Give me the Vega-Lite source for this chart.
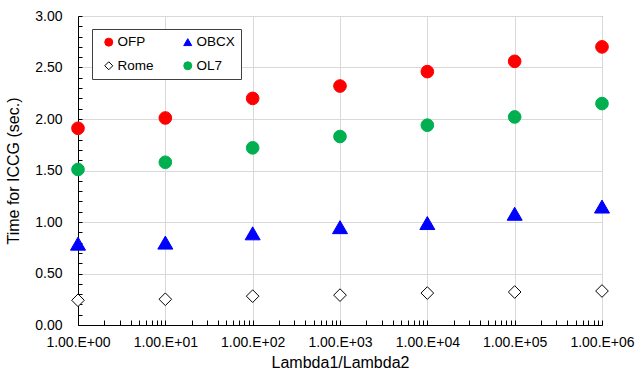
{
  "$schema": "https://vega.github.io/schema/vega-lite/v6.json",
  "width": 524,
  "height": 309,
  "autosize": "none",
  "padding": {"left": 78, "top": 16, "right": 34, "bottom": 47},
  "background": "white",
  "config": {
    "font": "Liberation Sans",
    "view": {"stroke": "#595959", "strokeWidth": 1}
  },
  "data": {
    "values": [
      {"ratio": 1, "series": "OFP", "time": 1.91},
      {"ratio": 10, "series": "OFP", "time": 2.01},
      {"ratio": 100, "series": "OFP", "time": 2.20},
      {"ratio": 1000, "series": "OFP", "time": 2.32},
      {"ratio": 10000, "series": "OFP", "time": 2.46},
      {"ratio": 100000, "series": "OFP", "time": 2.56},
      {"ratio": 1000000, "series": "OFP", "time": 2.70},
      {"ratio": 1, "series": "OBCX", "time": 0.79},
      {"ratio": 10, "series": "OBCX", "time": 0.80},
      {"ratio": 100, "series": "OBCX", "time": 0.89},
      {"ratio": 1000, "series": "OBCX", "time": 0.95},
      {"ratio": 10000, "series": "OBCX", "time": 0.99},
      {"ratio": 100000, "series": "OBCX", "time": 1.08},
      {"ratio": 1000000, "series": "OBCX", "time": 1.15},
      {"ratio": 1, "series": "Rome", "time": 0.24},
      {"ratio": 10, "series": "Rome", "time": 0.25},
      {"ratio": 100, "series": "Rome", "time": 0.28},
      {"ratio": 1000, "series": "Rome", "time": 0.29},
      {"ratio": 10000, "series": "Rome", "time": 0.31},
      {"ratio": 100000, "series": "Rome", "time": 0.32},
      {"ratio": 1000000, "series": "Rome", "time": 0.33},
      {"ratio": 1, "series": "OL7", "time": 1.51},
      {"ratio": 10, "series": "OL7", "time": 1.58},
      {"ratio": 100, "series": "OL7", "time": 1.72},
      {"ratio": 1000, "series": "OL7", "time": 1.83},
      {"ratio": 10000, "series": "OL7", "time": 1.94},
      {"ratio": 100000, "series": "OL7", "time": 2.02},
      {"ratio": 1000000, "series": "OL7", "time": 2.15}
    ]
  },
  "resolve": {"axis": {"x": "independent", "y": "independent"}},
  "layer": [
    {
      "mark": {"type": "point", "opacity": 0},
      "encoding": {
        "x": {
          "field": "ratio", "type": "quantitative",
          "scale": {"type": "log", "domain": [1, 1000000], "nice": false},
          "axis": {
            "orient": "bottom", "title": null, "labels": false, "grid": false, "domain": false,
            "ticks": true, "tickSize": -5, "tickColor": "black", "tickWidth": 1,
            "values": [1, 2, 3, 4, 5, 6, 7, 8, 9,
              10, 20, 30, 40, 50, 60, 70, 80, 90,
              100, 200, 300, 400, 500, 600, 700, 800, 900,
              1000, 2000, 3000, 4000, 5000, 6000, 7000, 8000, 9000,
              10000, 20000, 30000, 40000, 50000, 60000, 70000, 80000, 90000,
              100000, 200000, 300000, 400000, 500000, 600000, 700000, 800000, 900000, 1000000]
          }
        },
        "y": {
          "field": "time", "type": "quantitative",
          "scale": {"domain": [0, 3], "nice": false, "zero": true},
          "axis": {
            "orient": "left", "title": null, "labels": false, "grid": false, "domain": false,
            "ticks": true, "tickSize": -4, "tickColor": "black", "tickWidth": 1,
            "values": [0, 0.1, 0.2, 0.3, 0.4, 0.5, 0.6, 0.7, 0.8, 0.9, 1.0,
              1.1, 1.2, 1.3, 1.4, 1.5, 1.6, 1.7, 1.8, 1.9, 2.0,
              2.1, 2.2, 2.3, 2.4, 2.5, 2.6, 2.7, 2.8, 2.9, 3.0]
          }
        }
      }
    },
    {
      "transform": [{"filter": "datum.series != 'OBCX'"}],
      "mark": {"type": "point", "filled": true, "opacity": 1, "strokeWidth": 1, "size": 160},
      "encoding": {
        "x": {
          "field": "ratio", "type": "quantitative",
          "scale": {"type": "log", "domain": [1, 1000000], "nice": false},
          "axis": {
            "orient": "bottom",
            "title": "Lambda1/Lambda2",
            "values": [1, 10, 100, 1000, 10000, 100000, 1000000],
            "labelExpr": "'1.00.E+0' + round(log(datum.value) / LN10)",
            "labelFontSize": 14, "labelColor": "black", "labelPadding": 10,
            "labelFlush": false, "labelOverlap": false,
            "ticks": false, "grid": true, "gridColor": "#D9D9D9", "gridWidth": 1,
            "domainColor": "black", "domainWidth": 1,
            "titleFontSize": 16, "titleFontWeight": "normal", "titleColor": "black", "titlePadding": 5
          }
        },
        "y": {
          "field": "time", "type": "quantitative",
          "scale": {"domain": [0, 3], "nice": false, "zero": true},
          "axis": {
            "orient": "left",
            "title": "Time for ICCG (sec.)",
            "values": [0, 0.5, 1.0, 1.5, 2.0, 2.5, 3.0],
            "format": ".2f",
            "labelFontSize": 14, "labelColor": "black", "labelPadding": 16,
            "ticks": false, "grid": true, "gridColor": "#D9D9D9", "gridWidth": 1,
            "domainColor": "black", "domainWidth": 1,
            "titleFontSize": 16, "titleFontWeight": "normal", "titleColor": "black", "titlePadding": 13
          }
        },
        "fill": {
          "field": "series", "type": "nominal",
          "scale": {"domain": ["OFP", "OBCX", "Rome", "OL7"], "range": ["#FF0000", "#0000FF", "#FFFFFF", "#00B050"]},
          "legend": {
            "orient": "none", "legendX": 14, "legendY": 13, "title": null,
            "direction": "horizontal",
            "columns": 2, "columnPadding": 23, "rowPadding": 9,
            "padding": 6, "symbolOffset": 4, "labelOffset": 2,
            "symbolSize": 64, "symbolStrokeWidth": 1,
            "labelFontSize": 13.5, "labelColor": "black",
            "strokeColor": "#404040", "fillColor": "white", "cornerRadius": 0
          }
        },
        "stroke": {
          "field": "series", "type": "nominal",
          "scale": {"domain": ["OFP", "OBCX", "Rome", "OL7"], "range": ["#FF0000", "#0000FF", "#000000", "#00B050"]}
        },
        "shape": {
          "field": "series", "type": "nominal",
          "scale": {"domain": ["OFP", "OBCX", "Rome", "OL7"], "range": ["circle", "triangle-up", "diamond", "circle"]}
        }
      }
    },
    {
      "transform": [{"filter": "datum.series == 'OBCX'"}],
      "mark": {"type": "point", "filled": true, "opacity": 1, "strokeWidth": 1, "size": 225},
      "encoding": {
        "x": {"field": "ratio", "type": "quantitative", "axis": null},
        "y": {"field": "time", "type": "quantitative", "axis": null},
        "fill": {"field": "series", "type": "nominal"},
        "stroke": {"field": "series", "type": "nominal"},
        "shape": {"field": "series", "type": "nominal"}
      }
    }
  ]
}
